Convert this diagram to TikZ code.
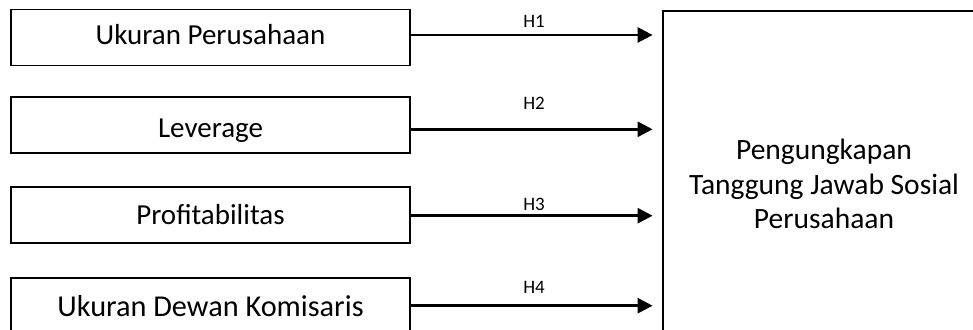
\documentclass[tikz,border=0pt]{standalone}
\usepackage{fontspec}
\setmainfont{Carlito}
\usetikzlibrary{arrows.meta}

\tikzset{
  varbox/.style={draw=black, line width=1.8pt, fill=white,
    minimum width=399pt, minimum height=56pt, inner sep=0pt,
    text height=18.7pt, text depth=0pt,
    font=\fontsize{29}{35}\selectfont},
  depbox/.style={draw=black, line width=1.8pt, fill=white,
    minimum width=322pt, minimum height=346pt, inner sep=0pt,
    align=center, font=\fontsize{29.5}{34.7}\selectfont},
  hyparrow/.style={line width=2.6pt,
    -{Triangle[length=15pt, width=15pt]}, shorten >=9.5pt},
  hyplabel/.style={font=\fontsize{19}{22}\selectfont, inner sep=0pt}
}

\begin{document}
\begin{tikzpicture}[x=1pt, y=-1pt]
  \useasboundingbox (0,0) rectangle (973,329);
  \clip (0,0) rectangle (973,329);

  % independent variables
  \node[varbox, text depth=5pt] (ukuran) at (210.5, 37.5) {Ukuran Perusahaan};
  \node[varbox, text height=24.7pt] (lev) at (210.5, 125) {Leverage};
  \node[varbox] (profit) at (210.5, 215.3) {Profitabilitas};
  \node[varbox, font=\fontsize{30.3}{36}\selectfont, text height=19.5pt, text depth=-2pt]
    (dewan) at (210.5, 306.3) {Ukuran Dewan Komisaris};

  % dependent variable
  \node[depbox] (csr) at (824, 184)
    {Pengungkapan\\Tanggung Jawab Sosial\\Perusahaan};

  % hypotheses
  \draw[hyparrow] ([yshift=2.5pt]ukuran.east) -- ([yshift=2.5pt]ukuran.east -| csr.west)
    node[hyplabel, pos=0.49, yshift=13.3pt] (h1) {H1};
  \draw[hyparrow] ([yshift=-4.3pt]lev.east) -- ([yshift=-4.3pt]lev.east -| csr.west)
    node[hyplabel, pos=0.49, yshift=26.3pt] (h2) {H2};
  \draw[hyparrow] ([yshift=-0.4pt]profit.east) -- ([yshift=-0.4pt]profit.east -| csr.west)
    node[hyplabel, pos=0.49, yshift=11.7pt] (h3) {H3};
  \draw[hyparrow] ([yshift=0.6pt]dewan.east) -- ([yshift=0.6pt]dewan.east -| csr.west)
    node[hyplabel, pos=0.49, yshift=18pt] (h4) {H4};
\end{tikzpicture}
\end{document}
